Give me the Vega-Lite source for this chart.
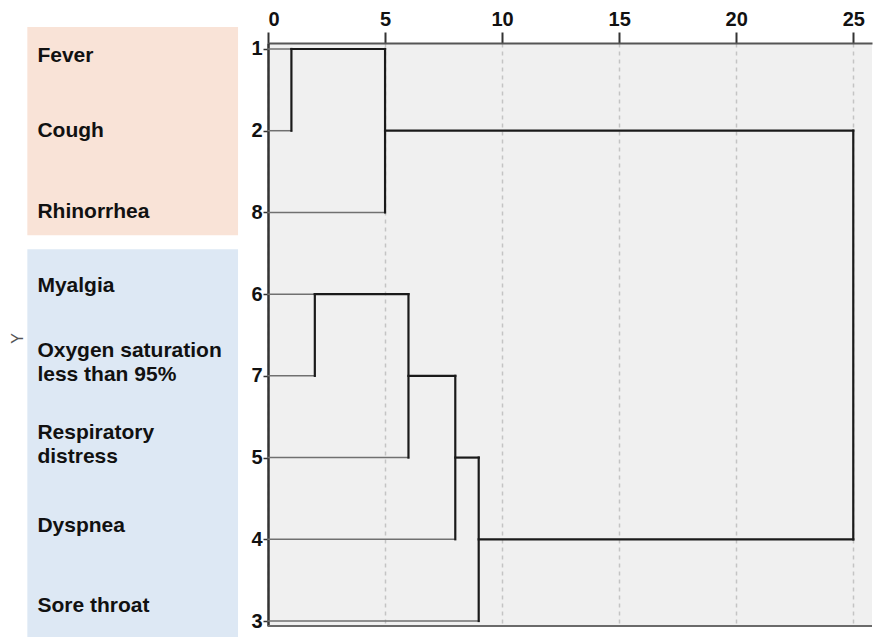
{
  "$schema": "https://vega.github.io/schema/vega-lite/v6.json",
  "autosize": {"type": "none"},
  "padding": {"left": 268, "top": 43, "right": 2, "bottom": 11},
  "width": 604,
  "height": 583,
  "background": "white",
  "config": {
    "view": {"fill": "#f0f0f0", "stroke": null},
    "font": "Liberation Sans",
    "axis": {
      "labelFont": "Liberation Sans", "labelFontWeight": "bold", "labelColor": "#111",
      "titleFont": "Liberation Sans"
    },
    "axisX": {
      "labelFontSize": 20, "labelPadding": 3, "tickSize": 11, "tickWidth": 2, "tickColor": "#333",
      "domainColor": "#555", "domainWidth": 2,
      "grid": true, "gridDash": [4, 4], "gridColor": "#c4c4c4", "gridWidth": 1.5
    },
    "axisY": {
      "labelFontSize": 20, "labelPadding": 1, "tickSize": 5, "tickWidth": 1.5, "tickColor": "#333",
      "domainColor": "#333", "domainWidth": 2.5, "grid": false,
      "titleFontSize": 16, "titleFontWeight": "normal", "titleColor": "#555"
    }
  },
  "datasets": {
    "groups": [
      {"group": "Upper respiratory", "top": -0.27, "bottom": 2.28},
      {"group": "Lower respiratory", "top": 2.45, "bottom": 7.2}
    ],
    "labels": [
      {"label": "Fever", "pos": 0.09},
      {"label": "Cough", "pos": 1.0},
      {"label": "Rhinorrhea", "pos": 1.99},
      {"label": "Myalgia", "pos": 2.9},
      {"label": "Oxygen saturation\nless than 95%", "pos": 3.69},
      {"label": "Respiratory\ndistress", "pos": 4.7},
      {"label": "Dyspnea", "pos": 5.84},
      {"label": "Sore throat", "pos": 6.82}
    ],
    "segments": [
      {"kind": "leaf", "x1": 0, "x2": 1, "y1": 0, "y2": 0},
      {"kind": "leaf", "x1": 0, "x2": 1, "y1": 1, "y2": 1},
      {"kind": "leaf", "x1": 0, "x2": 5, "y1": 2, "y2": 2},
      {"kind": "leaf", "x1": 0, "x2": 2, "y1": 3, "y2": 3},
      {"kind": "leaf", "x1": 0, "x2": 2, "y1": 4, "y2": 4},
      {"kind": "leaf", "x1": 0, "x2": 6, "y1": 5, "y2": 5},
      {"kind": "leaf", "x1": 0, "x2": 8, "y1": 6, "y2": 6},
      {"kind": "leaf", "x1": 0, "x2": 9, "y1": 7, "y2": 7},
      {"kind": "node", "x1": 1, "x2": 1, "y1": 0, "y2": 1},
      {"kind": "node", "x1": 1, "x2": 5, "y1": 0, "y2": 0},
      {"kind": "node", "x1": 5, "x2": 5, "y1": 0, "y2": 2},
      {"kind": "node", "x1": 5, "x2": 25, "y1": 1, "y2": 1},
      {"kind": "node", "x1": 25, "x2": 25, "y1": 1, "y2": 6},
      {"kind": "node", "x1": 2, "x2": 2, "y1": 3, "y2": 4},
      {"kind": "node", "x1": 2, "x2": 6, "y1": 3, "y2": 3},
      {"kind": "node", "x1": 6, "x2": 6, "y1": 3, "y2": 5},
      {"kind": "node", "x1": 6, "x2": 8, "y1": 4, "y2": 4},
      {"kind": "node", "x1": 8, "x2": 8, "y1": 4, "y2": 6},
      {"kind": "node", "x1": 8, "x2": 9, "y1": 5, "y2": 5},
      {"kind": "node", "x1": 9, "x2": 9, "y1": 5, "y2": 7},
      {"kind": "node", "x1": 9, "x2": 25, "y1": 6, "y2": 6}
    ],
    "border": [{"edge": "bottom", "y": 7.061, "xa": 0, "xb": 25.8}]
  },
  "layer": [
    {
      "data": {"name": "segments"},
      "mark": {"type": "rule", "strokeCap": "square"},
      "encoding": {
        "x": {
          "field": "x1", "type": "quantitative",
          "scale": {"domain": [0, 25.8], "nice": false, "zero": false},
          "axis": {"orient": "top", "title": null, "values": [0, 5, 10, 15, 20, 25]}
        },
        "x2": {"field": "x2"},
        "y": {
          "field": "y1", "type": "quantitative",
          "scale": {"domain": [-0.0734, 7.061], "nice": false, "zero": false, "reverse": true},
          "axis": {
            "title": "Y", "values": [0, 1, 2, 3, 4, 5, 6, 7],
            "labelExpr": "['1','2','8','6','7','5','4','3'][datum.value]",
            "titleX": -243, "titleY": 295
          }
        },
        "y2": {"field": "y2"},
        "color": {"field": "kind", "type": "nominal", "scale": {"domain": ["leaf", "node"], "range": ["#707070", "#1a1a1a"]}, "legend": null},
        "strokeWidth": {"field": "kind", "type": "nominal", "scale": {"domain": ["leaf", "node"], "range": [1.5, 2.2]}, "legend": null}
      }
    },
    {
      "data": {"name": "groups"},
      "mark": {"type": "rect"},
      "encoding": {
        "x": {"datum": -10.28, "type": "quantitative"},
        "x2": {"datum": -1.28},
        "y": {"field": "top", "type": "quantitative"},
        "y2": {"field": "bottom"},
        "fill": {"field": "group", "type": "nominal", "scale": {"domain": ["Upper respiratory", "Lower respiratory"], "range": ["#f9e3d7", "#dde8f4"]}, "legend": null}
      }
    },
    {
      "data": {"name": "labels"},
      "mark": {"type": "text", "align": "left", "baseline": "middle", "fontSize": 21, "fontWeight": "bold", "color": "#111", "lineBreak": "\n", "lineHeight": 24, "font": "Liberation Sans"},
      "encoding": {
        "x": {"datum": -9.85, "type": "quantitative"},
        "y": {"field": "pos", "type": "quantitative"},
        "text": {"field": "label", "type": "nominal"}
      }
    },
    {
      "data": {"name": "border"},
      "mark": {"type": "rule", "color": "#6a6a6a", "strokeWidth": 2},
      "encoding": {
        "x": {"field": "xa", "type": "quantitative"},
        "x2": {"field": "xb"},
        "y": {"field": "y", "type": "quantitative"}
      }
    }
  ],
  "resolve": {"scale": {"fill": "independent"}}
}
